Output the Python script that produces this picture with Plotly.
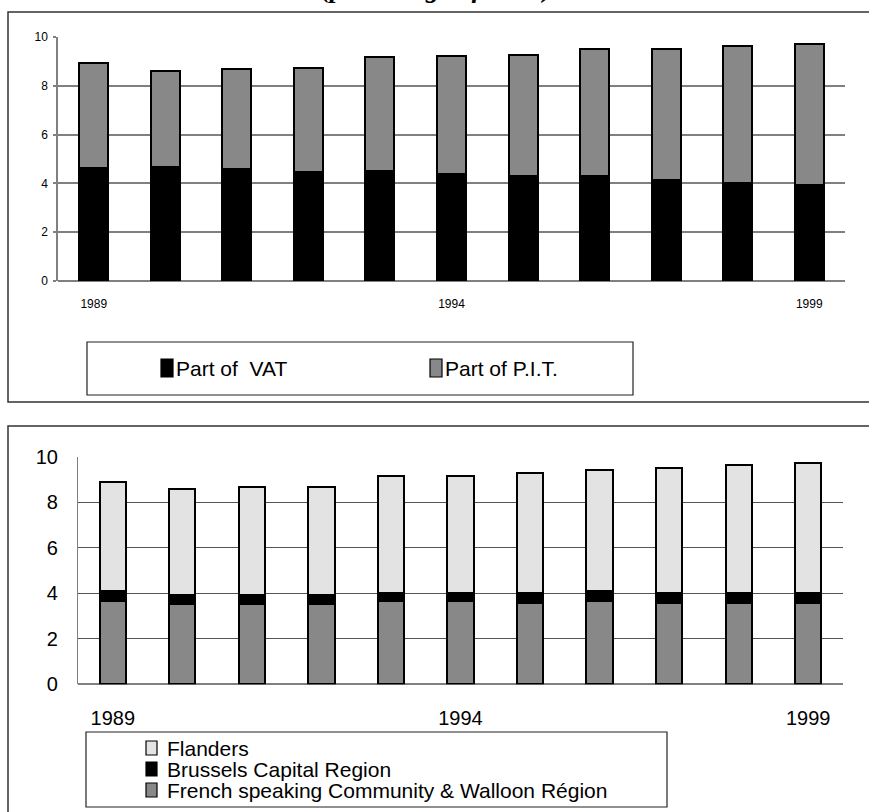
import plotly.graph_objects as go

# ---------------- data ----------------
years = [1989, 1990, 1991, 1992, 1993, 1994, 1995, 1996, 1997, 1998, 1999]
tick_years = [1989, 1994, 1999]
y_ticks = [0, 2, 4, 6, 8, 10]
grid_vals = [2, 4, 6, 8]

# top chart (percentage of GDP)
vat_part = [4.64, 4.68, 4.59, 4.45, 4.49, 4.40, 4.29, 4.29, 4.14, 4.02, 3.95]
pit_part = [4.28, 3.92, 4.11, 4.27, 4.70, 4.83, 4.98, 5.21, 5.38, 5.62, 5.76]
top_names = ["Part of  VAT", "Part of P.I.T."]

# bottom chart
french_walloon = [3.68, 3.52, 3.52, 3.52, 3.68, 3.68, 3.59, 3.68, 3.59, 3.59, 3.59]
brussels = [0.42, 0.41, 0.41, 0.41, 0.32, 0.32, 0.41, 0.44, 0.41, 0.41, 0.41]
flanders = [4.79, 4.68, 4.76, 4.76, 5.16, 5.16, 5.28, 5.31, 5.53, 5.65, 5.72]
bottom_names = ["Flanders", "Brussels Capital Region",
                "French speaking Community & Walloon Région"]

title_text = "(percentage of GDP)"

# ---------------- layout helpers ----------------
W, H = 869, 812
def px(x):
    return x / W
def py(y):
    return 1 - y / H

NARROW = "Liberation Sans Narrow, Arial Narrow, Liberation Sans, Arial, sans-serif"
SANS = "Liberation Sans, Arial, sans-serif"

BLACK = "#000000"
MID_GREY = "#888888"
LIGHT_GREY = "#e3e3e3"

fig = go.Figure()

# top chart
fig.add_trace(go.Bar(x=years, y=vat_part, name=top_names[0], width=0.405,
                     marker=dict(color=BLACK, line=dict(color=BLACK, width=2)),
                     xaxis="x", yaxis="y", showlegend=False))
fig.add_trace(go.Bar(x=years, y=pit_part, name=top_names[1], width=0.405,
                     marker=dict(color=MID_GREY, line=dict(color=BLACK, width=2)),
                     xaxis="x", yaxis="y", showlegend=False))

# bottom chart
fig.add_trace(go.Bar(x=years, y=french_walloon, name=bottom_names[2], width=0.378,
                     marker=dict(color=MID_GREY, line=dict(color=BLACK, width=2)),
                     xaxis="x2", yaxis="y2", showlegend=False))
fig.add_trace(go.Bar(x=years, y=brussels, name=bottom_names[1], width=0.378,
                     marker=dict(color=BLACK, line=dict(color=BLACK, width=2)),
                     xaxis="x2", yaxis="y2", showlegend=False))
fig.add_trace(go.Bar(x=years, y=flanders, name=bottom_names[0], width=0.378,
                     marker=dict(color=LIGHT_GREY, line=dict(color=BLACK, width=2)),
                     xaxis="x2", yaxis="y2", showlegend=False))

fig.update_layout(
    width=W, height=H,
    margin=dict(l=0, r=0, t=0, b=0, autoexpand=False),
    paper_bgcolor="white", plot_bgcolor="white",
    barmode="stack",
    showlegend=False,
    xaxis=dict(domain=[px(58), px(845)], range=[1988.5, 1999.5], anchor="y",
               tickvals=tick_years, ticktext=[str(v) for v in tick_years],
               showgrid=False, zeroline=False, showline=False,
               ticks="outside", ticklen=12, tickcolor="rgba(0,0,0,0)",
               tickfont=dict(family=SANS, size=12, color=BLACK)),
    yaxis=dict(domain=[py(281), py(37)], range=[0, 10], anchor="x",
               tickvals=y_ticks, showgrid=False,
               minor=dict(tickvals=grid_vals, showgrid=True, gridcolor="#808080", gridwidth=1.5),
               zeroline=True, zerolinecolor="#808080", zerolinewidth=1.5,
               showline=True, linecolor="#808080", linewidth=1.5,
               ticks="outside", ticklen=3, tickcolor="#808080", tickwidth=1.5,
               ticklabelstandoff=3,
               tickfont=dict(family=SANS, size=12, color=BLACK)),
    xaxis2=dict(domain=[px(78), px(843)], range=[1988.5, 1999.5], anchor="y2",
                tickvals=tick_years, ticktext=[str(v) for v in tick_years],
                showgrid=False, zeroline=False, showline=False,
                ticks="outside", ticklen=16, tickcolor="rgba(0,0,0,0)",
                tickfont=dict(family=SANS, size=20, color=BLACK)),
    yaxis2=dict(domain=[py(684.3), py(457)], range=[0, 10], anchor="x2",
                tickvals=y_ticks, showgrid=False,
                minor=dict(tickvals=grid_vals, showgrid=True, gridcolor="#555555", gridwidth=1.2),
                zeroline=True, zerolinecolor="#808080", zerolinewidth=1.5,
                showline=True, linecolor="#808080", linewidth=1.2,
                ticks="", ticklabelstandoff=15,
                tickfont=dict(family=SANS, size=20, color=BLACK)),
)

shapes = []
# panel frames
shapes.append(dict(type="rect", xref="paper", yref="paper",
                   x0=px(8), x1=px(885), y0=py(402), y1=py(12),
                   line=dict(color="#333333", width=1.5), layer="below"))
shapes.append(dict(type="rect", xref="paper", yref="paper",
                   x0=px(8), x1=px(885), y0=py(830), y1=py(426),
                   line=dict(color="#333333", width=1.5), layer="below"))
# legend boxes
shapes.append(dict(type="rect", xref="paper", yref="paper",
                   x0=px(87), x1=px(633), y0=py(395), y1=py(342),
                   line=dict(color="#222222", width=1.2), layer="below"))
shapes.append(dict(type="rect", xref="paper", yref="paper",
                   x0=px(86), x1=px(667), y0=py(807), y1=py(732),
                   line=dict(color="#222222", width=1.2), layer="below"))

annotations = []
# title (cut by the top edge, as in the reference)
annotations.append(dict(text="<b><i>" + title_text + "</i></b>", xref="paper", yref="paper",
                        x=px(436), y=py(4.5), xanchor="center", yanchor="bottom",
                        showarrow=False,
                        font=dict(family="Liberation Serif, Times New Roman, serif", size=27, color=BLACK)))

# top legend entries (swatch + label)
top_colors = [BLACK, MID_GREY]
top_x = [161, 430]
for name, col, x in zip(top_names, top_colors, top_x):
    shapes.append(dict(type="rect", xref="paper", yref="paper",
                       x0=px(x), x1=px(x + 12), y0=py(377), y1=py(359),
                       fillcolor=col, line=dict(color=BLACK, width=1.2)))
    annotations.append(dict(text=name, xref="paper", yref="paper",
                            x=px(x + 13), y=py(368), xanchor="left", yanchor="middle",
                            showarrow=False,
                            font=dict(family=NARROW, size=21, color=BLACK)))

# bottom legend entries (swatch + label)
bottom_colors = [LIGHT_GREY, BLACK, MID_GREY]
bottom_y = [748, 769, 790]
for name, col, y in zip(bottom_names, bottom_colors, bottom_y):
    shapes.append(dict(type="rect", xref="paper", yref="paper",
                       x0=px(146), x1=px(157), y0=py(y + 7), y1=py(y - 7),
                       fillcolor=col, line=dict(color=BLACK, width=1.2)))
    annotations.append(dict(text=name, xref="paper", yref="paper",
                            x=px(165), y=py(y), xanchor="left", yanchor="middle",
                            showarrow=False,
                            font=dict(family=SANS, size=21, color=BLACK)))

fig.update_layout(shapes=shapes, annotations=annotations)

# let the figure start at the very top-left corner of the page
fig.write_html("out.html", config={"displayModeBar": False},
               post_script="document.body.style.margin='0px';")
